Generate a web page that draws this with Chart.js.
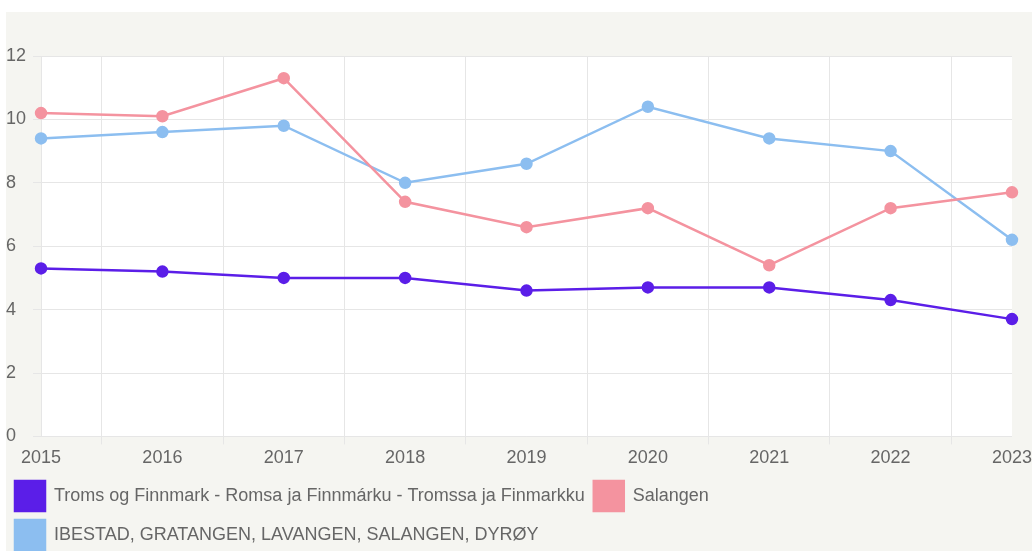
<!DOCTYPE html>
<html>
<head>
<meta charset="utf-8">
<script src="https://cdn.jsdelivr.net/npm/chart.js@4"></script>
<style>
  html, body { margin: 0; padding: 0; background: #ffffff; overflow: hidden; }
  .wrap { position: absolute; left: 6px; top: 12px; width: 1026px; height: 548px; background: #f5f5f1; }
</style>
</head>
<body>
<div class="wrap"><canvas id="chart"></canvas></div>
<script>
  const years = ['2015', '2016', '2017', '2018', '2019', '2020', '2021', '2022', '2023'];
  const tromsValues = [5.3, 5.2, 5.0, 5.0, 4.6, 4.7, 4.7, 4.3, 3.7];
  const salangenValues = [10.2, 10.1, 11.3, 7.4, 6.6, 7.2, 5.4, 7.2, 7.7];
  const ibestadValues = [9.4, 9.6, 9.8, 8.0, 8.6, 10.4, 9.4, 9.0, 6.2];
  const yTicks = [0, 2, 4, 6, 8, 10, 12];

  const purple = '#5b1ee8';
  const pink = '#f4939f';
  const blue = '#8cbef0';
  const font = { family: "'Liberation Sans', Arial, sans-serif", size: 18 };

  // white plot area on the grey card
  const plotBg = {
    id: 'plotBg',
    beforeDraw(chart) {
      const { ctx, chartArea: a } = chart;
      ctx.save();
      ctx.fillStyle = '#ffffff';
      ctx.fillRect(a.left, a.top, a.right - a.left, a.bottom - a.top);
      ctx.restore();
    }
  };

  function line(label, data, color) {
    return {
      label: label,
      data: data,
      borderColor: color,
      backgroundColor: color,
      borderWidth: 2.5,
      pointRadius: 5,
      pointHoverRadius: 6,
      fill: false,
      tension: 0
    };
  }

  const ctx = document.getElementById('chart').getContext('2d');
  new Chart(ctx, {
    type: 'line',
    data: {
      labels: years,
      datasets: [
        line('Troms og Finnmark - Romsa ja Finnmárku - Tromssa ja Finmarkku', tromsValues, purple),
        line('Salangen', salangenValues, pink),
        line('IBESTAD, GRATANGEN, LAVANGEN, SALANGEN, DYRØY', ibestadValues, blue)
      ]
    },
    options: {
      responsive: true,
      maintainAspectRatio: false,
      animation: false,
      layout: { padding: { top: 44, left: 0, right: 0, bottom: 0 } },
      plugins: {
        legend: {
          position: 'bottom',
          align: 'start',
          labels: {
            color: '#666',
            font: font,
            boxWidth: 30,
            boxHeight: 30,
            padding: 9
          }
        },
        tooltip: { enabled: false }
      },
      scales: {
        x: {
          offset: false,
          afterFit(scale) { scale.paddingRight = Math.max(scale.paddingRight - 3, 0); },
          grid: { color: '#e6e6e6', offset: true, tickLength: 8 },
          border: { color: '#e6e6e6' },
          ticks: { color: '#666', font: font, maxRotation: 0, padding: 3 }
        },
        y: {
          min: 0,
          max: 12,
          afterBuildTicks(axis) { axis.ticks = yTicks.map(v => ({ value: v })); },
          grid: { color: '#e6e6e6', tickLength: 8 },
          border: { color: '#e6e6e6' },
          ticks: { color: '#666', font: font, crossAlign: 'far', padding: 3.5 }
        }
      }
    },
    plugins: [plotBg]
  });
</script>
</body>
</html>
